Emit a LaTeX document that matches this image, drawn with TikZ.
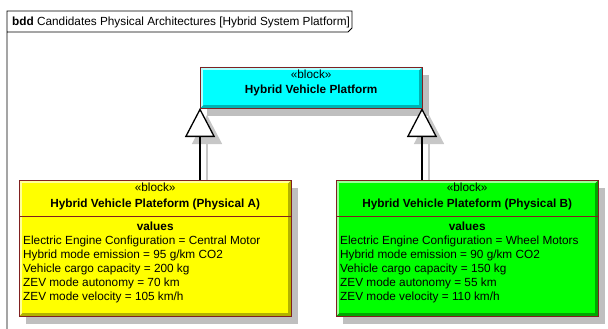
\documentclass[tikz,border=0pt]{standalone}
\usepackage{fontspec}
\setmainfont{Liberation Sans}
\usetikzlibrary{calc,arrows.meta}
\definecolor{cy}{RGB}{0,255,255}
\definecolor{ye}{RGB}{255,255,0}
\definecolor{gr}{RGB}{0,255,0}
\definecolor{bord}{RGB}{128,32,32}
\tikzset{
  blk/.style={rectangle, inner sep=0pt, anchor=north west},
  shadowfill/.style={fill=black!25},
  gen/.style={line width=1.4pt, -{Triangle[open, length=29pt, width=30pt, line width=1.3pt, fill=white]}},
  genshadow/.style={line width=1.4pt, black!22, -{Triangle[length=29pt, width=30pt, line width=1.3pt, fill=black!22]}},
  txt/.style={inner sep=0pt, font=\fontsize{11.8}{13.8}\selectfont},
  hdr/.style={txt, anchor=base},
  val/.style={txt, anchor=base west},
}
\newcommand\mkbevel[4]{% name, light, main, dark
  \fill[#4] (#1.north west) rectangle (#1.south east);
  \fill[#2] (#1.north west) -- (#1.north east) -- ($(#1.north east)+(-3,3)$) -- ($(#1.north west)+(3,3)$) -- ($(#1.south west)+(3,-3)$) -- (#1.south west) -- cycle;
  \fill[#3] ($(#1.north west)+(3,3)$) rectangle ($(#1.south east)+(-3,-3)$);
  \draw[line width=0.8pt, bord] (#1.north west) rectangle (#1.south east);
}
\begin{document}
\begin{tikzpicture}[x=1pt,y=-1pt]
\useasboundingbox (0,0) rectangle (608,329);
% frame
\draw[line width=0.8pt] (7,329) -- (7,11) -- (352,11) -- (352,28) -- (348,32) -- (7,32);
\node[txt, anchor=base west] (title) at (12,26) {\textbf{bdd} Candidates Physical Architectures [Hybrid System Platform]};
% node geometry
\node[blk, minimum width=222pt, minimum height=41pt] (top) at (200,67) {};
\node[blk, minimum width=272pt, minimum height=136pt] (pa) at (19,180) {};
\node[blk, minimum width=262pt, minimum height=136pt] (pb) at (336,180) {};
\coordinate (ta) at (200,108);
\coordinate (tb) at (422,108);
\coordinate (ba) at (200,180);
\coordinate (bb) at (422,180);
% shadows
\foreach \n in {top,pa,pb}{
  \fill[shadowfill] ($(\n.north west)+(7,8)$) rectangle ($(\n.south east)+(7,8)$);
}
\draw[genshadow] ($(ba)+(7,0)$) -- ($(ta)+(7,7)$);
\draw[genshadow] ($(bb)+(7,0)$) -- ($(tb)+(7,7)$);
% connectors
\draw[gen] (ba) -- (ta);
\draw[gen] (bb) -- (tb);
% blocks
\mkbevel{top}{cy!30!white}{cy}{cy!70!black}
\mkbevel{pa}{ye!40!white}{ye}{ye!70!black}
\mkbevel{pb}{gr!40!white}{gr}{gr!65!black}
\draw[line width=0.8pt, bord] ($(pa.north west)+(0,36)$) -- ($(pa.north east)+(0,36)$);
\draw[line width=0.8pt, bord] ($(pb.north west)+(0,36)$) -- ($(pb.north east)+(0,36)$);
% texts
\node[hdr] (tops) at ($(top.north)+(0,12)$) {«block»};
\node[hdr] (topn) at ($(top.north)+(0,26)$) {\textbf{Hybrid Vehicle Platform}};
\node[hdr] (pas) at ($(pa.north)+(0,11)$) {«block»};
\node[hdr] (pan) at ($(pa.north)+(0,27)$) {\textbf{Hybrid Vehicle Plateform (Physical A)}};
\node[hdr] (pav) at ($(pa.north)+(0,50)$) {\textbf{values}};
\node[hdr] (pbs) at ($(pb.north)+(0,11)$) {«block»};
\node[hdr] (pbn) at ($(pb.north)+(0,27)$) {\textbf{Hybrid Vehicle Plateform (Physical B)}};
\node[hdr] (pbv) at ($(pb.north)+(0,50)$) {\textbf{values}};
\node[val] (pa1) at (23,244) {Electric Engine Configuration = Central Motor};
\node[val] (pa2) at (23,258) {Hybrid mode emission = 95 g/km CO2};
\node[val] (pa3) at (23,272) {Vehicle cargo capacity = 200 kg};
\node[val] (pa4) at (23,286) {ZEV mode autonomy = 70 km};
\node[val] (pa5) at (23,300) {ZEV mode velocity = 105 km/h};
\node[val] (pb1) at (340,244) {Electric Engine Configuration = Wheel Motors};
\node[val] (pb2) at (340,258) {Hybrid mode emission = 90 g/km CO2};
\node[val] (pb3) at (340,272) {Vehicle cargo capacity = 150 kg};
\node[val] (pb4) at (340,286) {ZEV mode autonomy = 55 km};
\node[val] (pb5) at (340,300) {ZEV mode velocity = 110 km/h};
\end{tikzpicture}
\end{document}
